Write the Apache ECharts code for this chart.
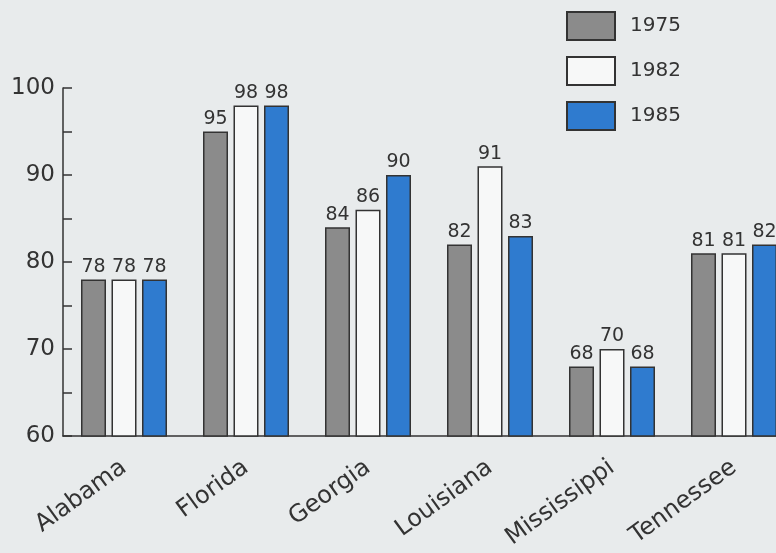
<!DOCTYPE html>
<html>
<head>
<meta charset="utf-8">
<script src="https://cdn.jsdelivr.net/npm/echarts@6/dist/echarts.min.js"></script>
<style>
  html, body { margin: 0; padding: 0; background: #e8ebec; }
  #chart { width: 776px; height: 553px; }
</style>
</head>
<body>
<div id="chart"></div>
<script>
// States and the three survey years
const states = ['Alabama', 'Florida', 'Georgia', 'Louisiana', 'Mississippi', 'Tennessee'];
const years = ['1975', '1982', '1985'];
const values1975 = [78, 95, 84, 82, 68, 81];
const values1982 = [78, 98, 86, 91, 70, 81];
const values1985 = [78, 98, 90, 83, 68, 82];
const yTicks = [60, 70, 80, 90, 100];

const seriesData = [values1975, values1982, values1985];
const fills = ['#8b8b8b', '#f7f8f8', '#2f7bcf'];
const textColor = '#333333';
const fontFamily = '"DejaVu Sans", sans-serif';

const chart = echarts.init(document.getElementById('chart'));

chart.setOption({
  backgroundColor: '#e8ebec',
  animation: false,
  textStyle: { fontFamily: fontFamily, color: textColor },
  legend: {
    orient: 'vertical',
    left: 566,
    top: 11,
    padding: 0,
    itemWidth: 48,
    itemHeight: 28,
    itemGap: 15,
    icon: 'rect',
    textStyle: { fontSize: 20, color: textColor, fontFamily: fontFamily, padding: [0, 0, 0, 10] },
    data: years
  },
  // the plot runs past the right edge, so the last bar is cut off
  grid: { left: 63, top: 88, width: 732, height: 348, containLabel: false, outerBoundsMode: 'none' },
  xAxis: {
    type: 'category',
    data: states,
    axisLine: { lineStyle: { color: textColor, width: 1.5 } },
    axisTick: { alignWithLabel: true, length: 9, lineStyle: { color: textColor, width: 1.5 } },
    axisLabel: {
      rotate: 36,
      margin: 29,
      fontSize: 24,
      color: textColor,
      fontFamily: fontFamily
    }
  },
  yAxis: {
    type: 'value',
    min: 60,
    max: 100,
    interval: 5,
    splitLine: { show: false },
    axisLine: { show: true, lineStyle: { color: textColor, width: 1.5 } },
    axisTick: { show: true, inside: true, length: 9, lineStyle: { color: textColor, width: 1.5 } },
    axisLabel: {
      margin: 8,
      fontSize: 23,
      color: textColor,
      fontFamily: fontFamily,
      formatter: v => (yTicks.indexOf(v) >= 0 ? String(v) : '')
    }
  },
  series: seriesData.map((vals, i) => ({
    name: years[i],
    type: 'bar',
    data: vals,
    barWidth: 25,
    barGap: '22%',
    itemStyle: { color: fills[i], borderColor: '#333333', borderWidth: 1.5 },
    label: {
      show: true,
      position: 'top',
      distance: 3,
      fontSize: 19,
      color: textColor,
      fontFamily: fontFamily
    }
  }))
});
</script>
</body>
</html>
